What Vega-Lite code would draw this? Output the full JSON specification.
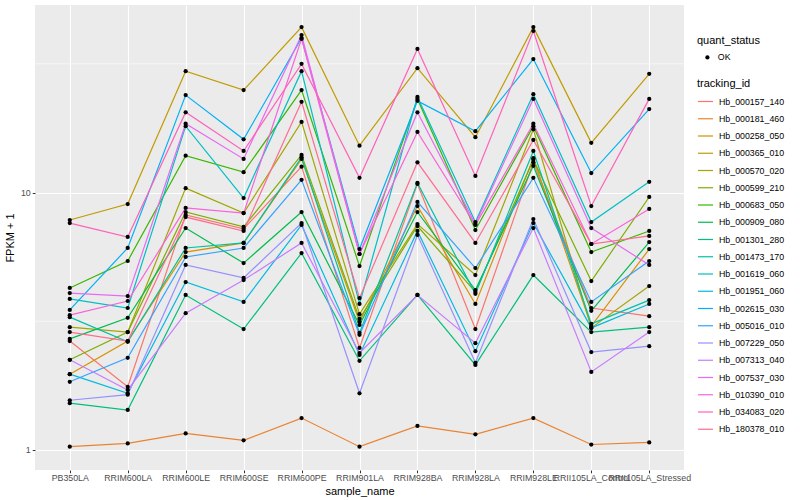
{
"$schema":"https://vega.github.io/schema/vega-lite/v6.json",
"width":649,"height":465,
"autosize":{"type":"none"},
"padding":{"left":35,"top":5,"right":116,"bottom":30},
"background":"white",
"config":{
"font":"Liberation Sans",
"view":{"fill":"#EBEBEB","stroke":null},
"axis":{"domain":false,"grid":true,"gridColor":"white","gridWidth":1.1,"tickColor":"#333333","tickSize":2.75,"tickWidth":1,"labelColor":"#4D4D4D","labelFontSize":8.8,"titleFontSize":11,"titleFontWeight":"normal","titleColor":"black","labelPadding":2},
"legend":{"titleFontSize":11,"titleFontWeight":"normal","titleColor":"black","labelFontSize":8.8,"labelColor":"black"}
},
"data":{"values":[
{"id":"Hb_000157_140","s":"PB350LA","v":2.65,"q":"OK"},{"id":"Hb_000157_140","s":"RRIM600LA","v":1.76,"q":"OK"},{"id":"Hb_000157_140","s":"RRIM600LE","v":8.18,"q":"OK"},{"id":"Hb_000157_140","s":"RRIM600SE","v":7.22,"q":"OK"},{"id":"Hb_000157_140","s":"RRIM600PE","v":12.6,"q":"OK"},{"id":"Hb_000157_140","s":"RRIM901LA","v":2.49,"q":"OK"},{"id":"Hb_000157_140","s":"RRIM928BA","v":10.8,"q":"OK"},{"id":"Hb_000157_140","s":"RRIM928LA","v":2.95,"q":"OK"},{"id":"Hb_000157_140","s":"RRIM928LE","v":13.1,"q":"OK"},{"id":"Hb_000157_140","s":"RRII105LA_Control","v":3.56,"q":"OK"},{"id":"Hb_000157_140","s":"RRII105LA_Stressed","v":3.31,"q":"OK"},
{"id":"Hb_000181_460","s":"PB350LA","v":1.03,"q":"OK"},{"id":"Hb_000181_460","s":"RRIM600LA","v":1.06,"q":"OK"},{"id":"Hb_000181_460","s":"RRIM600LE","v":1.16,"q":"OK"},{"id":"Hb_000181_460","s":"RRIM600SE","v":1.09,"q":"OK"},{"id":"Hb_000181_460","s":"RRIM600PE","v":1.33,"q":"OK"},{"id":"Hb_000181_460","s":"RRIM901LA","v":1.03,"q":"OK"},{"id":"Hb_000181_460","s":"RRIM928BA","v":1.24,"q":"OK"},{"id":"Hb_000181_460","s":"RRIM928LA","v":1.15,"q":"OK"},{"id":"Hb_000181_460","s":"RRIM928LE","v":1.33,"q":"OK"},{"id":"Hb_000181_460","s":"RRII105LA_Control","v":1.05,"q":"OK"},{"id":"Hb_000181_460","s":"RRII105LA_Stressed","v":1.07,"q":"OK"},
{"id":"Hb_000258_050","s":"PB350LA","v":1.97,"q":"OK"},{"id":"Hb_000258_050","s":"RRIM600LA","v":2.65,"q":"OK"},{"id":"Hb_000258_050","s":"RRIM600LE","v":5.87,"q":"OK"},{"id":"Hb_000258_050","s":"RRIM600SE","v":6.37,"q":"OK"},{"id":"Hb_000258_050","s":"RRIM600PE","v":13.5,"q":"OK"},{"id":"Hb_000258_050","s":"RRIM901LA","v":3.14,"q":"OK"},{"id":"Hb_000258_050","s":"RRIM928BA","v":8.86,"q":"OK"},{"id":"Hb_000258_050","s":"RRIM928LA","v":3.69,"q":"OK"},{"id":"Hb_000258_050","s":"RRIM928LE","v":13.6,"q":"OK"},{"id":"Hb_000258_050","s":"RRII105LA_Control","v":3.03,"q":"OK"},{"id":"Hb_000258_050","s":"RRII105LA_Stressed","v":6.03,"q":"OK"},
{"id":"Hb_000365_010","s":"PB350LA","v":7.82,"q":"OK"},{"id":"Hb_000365_010","s":"RRIM600LA","v":9.02,"q":"OK"},{"id":"Hb_000365_010","s":"RRIM600LE","v":29.6,"q":"OK"},{"id":"Hb_000365_010","s":"RRIM600SE","v":25.0,"q":"OK"},{"id":"Hb_000365_010","s":"RRIM600PE","v":43.9,"q":"OK"},{"id":"Hb_000365_010","s":"RRIM901LA","v":15.2,"q":"OK"},{"id":"Hb_000365_010","s":"RRIM928BA","v":30.4,"q":"OK"},{"id":"Hb_000365_010","s":"RRIM928LA","v":16.4,"q":"OK"},{"id":"Hb_000365_010","s":"RRIM928LE","v":43.9,"q":"OK"},{"id":"Hb_000365_010","s":"RRII105LA_Control","v":15.6,"q":"OK"},{"id":"Hb_000365_010","s":"RRII105LA_Stressed","v":28.9,"q":"OK"},
{"id":"Hb_000570_020","s":"PB350LA","v":3.00,"q":"OK"},{"id":"Hb_000570_020","s":"RRIM600LA","v":2.87,"q":"OK"},{"id":"Hb_000570_020","s":"RRIM600LE","v":10.4,"q":"OK"},{"id":"Hb_000570_020","s":"RRIM600SE","v":8.32,"q":"OK"},{"id":"Hb_000570_020","s":"RRIM600PE","v":18.8,"q":"OK"},{"id":"Hb_000570_020","s":"RRIM901LA","v":3.37,"q":"OK"},{"id":"Hb_000570_020","s":"RRIM928BA","v":7.54,"q":"OK"},{"id":"Hb_000570_020","s":"RRIM928LA","v":4.78,"q":"OK"},{"id":"Hb_000570_020","s":"RRIM928LE","v":17.6,"q":"OK"},{"id":"Hb_000570_020","s":"RRII105LA_Control","v":2.98,"q":"OK"},{"id":"Hb_000570_020","s":"RRII105LA_Stressed","v":4.33,"q":"OK"},
{"id":"Hb_000599_210","s":"PB350LA","v":2.24,"q":"OK"},{"id":"Hb_000599_210","s":"RRIM600LA","v":2.87,"q":"OK"},{"id":"Hb_000599_210","s":"RRIM600LE","v":8.40,"q":"OK"},{"id":"Hb_000599_210","s":"RRIM600SE","v":7.35,"q":"OK"},{"id":"Hb_000599_210","s":"RRIM600PE","v":14.0,"q":"OK"},{"id":"Hb_000599_210","s":"RRIM901LA","v":3.23,"q":"OK"},{"id":"Hb_000599_210","s":"RRIM928BA","v":7.41,"q":"OK"},{"id":"Hb_000599_210","s":"RRIM928LA","v":4.11,"q":"OK"},{"id":"Hb_000599_210","s":"RRIM928LE","v":13.4,"q":"OK"},{"id":"Hb_000599_210","s":"RRII105LA_Control","v":4.53,"q":"OK"},{"id":"Hb_000599_210","s":"RRII105LA_Stressed","v":9.61,"q":"OK"},
{"id":"Hb_000683_050","s":"PB350LA","v":4.26,"q":"OK"},{"id":"Hb_000683_050","s":"RRIM600LA","v":5.42,"q":"OK"},{"id":"Hb_000683_050","s":"RRIM600LE","v":13.9,"q":"OK"},{"id":"Hb_000683_050","s":"RRIM600SE","v":12.0,"q":"OK"},{"id":"Hb_000683_050","s":"RRIM600PE","v":25.0,"q":"OK"},{"id":"Hb_000683_050","s":"RRIM901LA","v":5.18,"q":"OK"},{"id":"Hb_000683_050","s":"RRIM928BA","v":23.1,"q":"OK"},{"id":"Hb_000683_050","s":"RRIM928LA","v":7.15,"q":"OK"},{"id":"Hb_000683_050","s":"RRIM928LE","v":18.1,"q":"OK"},{"id":"Hb_000683_050","s":"RRII105LA_Control","v":5.87,"q":"OK"},{"id":"Hb_000683_050","s":"RRII105LA_Stressed","v":7.09,"q":"OK"},
{"id":"Hb_000909_080","s":"PB350LA","v":2.70,"q":"OK"},{"id":"Hb_000909_080","s":"RRIM600LA","v":3.26,"q":"OK"},{"id":"Hb_000909_080","s":"RRIM600LE","v":7.28,"q":"OK"},{"id":"Hb_000909_080","s":"RRIM600SE","v":5.32,"q":"OK"},{"id":"Hb_000909_080","s":"RRIM600PE","v":8.40,"q":"OK"},{"id":"Hb_000909_080","s":"RRIM901LA","v":3.06,"q":"OK"},{"id":"Hb_000909_080","s":"RRIM928BA","v":8.40,"q":"OK"},{"id":"Hb_000909_080","s":"RRIM928LA","v":4.18,"q":"OK"},{"id":"Hb_000909_080","s":"RRIM928LE","v":12.7,"q":"OK"},{"id":"Hb_000909_080","s":"RRII105LA_Control","v":3.47,"q":"OK"},{"id":"Hb_000909_080","s":"RRII105LA_Stressed","v":6.42,"q":"OK"},
{"id":"Hb_001301_280","s":"PB350LA","v":1.52,"q":"OK"},{"id":"Hb_001301_280","s":"RRIM600LA","v":1.43,"q":"OK"},{"id":"Hb_001301_280","s":"RRIM600LE","v":4.00,"q":"OK"},{"id":"Hb_001301_280","s":"RRIM600SE","v":2.95,"q":"OK"},{"id":"Hb_001301_280","s":"RRIM600PE","v":5.82,"q":"OK"},{"id":"Hb_001301_280","s":"RRIM901LA","v":2.22,"q":"OK"},{"id":"Hb_001301_280","s":"RRIM928BA","v":4.00,"q":"OK"},{"id":"Hb_001301_280","s":"RRIM928LA","v":2.14,"q":"OK"},{"id":"Hb_001301_280","s":"RRIM928LE","v":4.78,"q":"OK"},{"id":"Hb_001301_280","s":"RRII105LA_Control","v":2.87,"q":"OK"},{"id":"Hb_001301_280","s":"RRII105LA_Stressed","v":3.00,"q":"OK"},
{"id":"Hb_001473_170","s":"PB350LA","v":3.28,"q":"OK"},{"id":"Hb_001473_170","s":"RRIM600LA","v":2.63,"q":"OK"},{"id":"Hb_001473_170","s":"RRIM600LE","v":6.09,"q":"OK"},{"id":"Hb_001473_170","s":"RRIM600SE","v":6.37,"q":"OK"},{"id":"Hb_001473_170","s":"RRIM600PE","v":13.7,"q":"OK"},{"id":"Hb_001473_170","s":"RRIM901LA","v":2.85,"q":"OK"},{"id":"Hb_001473_170","s":"RRIM928BA","v":10.9,"q":"OK"},{"id":"Hb_001473_170","s":"RRIM928LA","v":4.04,"q":"OK"},{"id":"Hb_001473_170","s":"RRIM928LE","v":14.5,"q":"OK"},{"id":"Hb_001473_170","s":"RRII105LA_Control","v":3.09,"q":"OK"},{"id":"Hb_001473_170","s":"RRII105LA_Stressed","v":3.82,"q":"OK"},
{"id":"Hb_001619_060","s":"PB350LA","v":3.86,"q":"OK"},{"id":"Hb_001619_060","s":"RRIM600LA","v":3.56,"q":"OK"},{"id":"Hb_001619_060","s":"RRIM600LE","v":18.1,"q":"OK"},{"id":"Hb_001619_060","s":"RRIM600SE","v":9.52,"q":"OK"},{"id":"Hb_001619_060","s":"RRIM600PE","v":29.6,"q":"OK"},{"id":"Hb_001619_060","s":"RRIM901LA","v":3.69,"q":"OK"},{"id":"Hb_001619_060","s":"RRIM928BA","v":23.5,"q":"OK"},{"id":"Hb_001619_060","s":"RRIM928LA","v":7.68,"q":"OK"},{"id":"Hb_001619_060","s":"RRIM928LE","v":24.1,"q":"OK"},{"id":"Hb_001619_060","s":"RRII105LA_Control","v":7.68,"q":"OK"},{"id":"Hb_001619_060","s":"RRII105LA_Stressed","v":11.0,"q":"OK"},
{"id":"Hb_001951_060","s":"PB350LA","v":1.97,"q":"OK"},{"id":"Hb_001951_060","s":"RRIM600LA","v":1.66,"q":"OK"},{"id":"Hb_001951_060","s":"RRIM600LE","v":4.49,"q":"OK"},{"id":"Hb_001951_060","s":"RRIM600SE","v":3.76,"q":"OK"},{"id":"Hb_001951_060","s":"RRIM600PE","v":7.48,"q":"OK"},{"id":"Hb_001951_060","s":"RRIM901LA","v":2.34,"q":"OK"},{"id":"Hb_001951_060","s":"RRIM928BA","v":7.09,"q":"OK"},{"id":"Hb_001951_060","s":"RRIM928LA","v":2.42,"q":"OK"},{"id":"Hb_001951_060","s":"RRIM928LE","v":7.61,"q":"OK"},{"id":"Hb_001951_060","s":"RRII105LA_Control","v":2.98,"q":"OK"},{"id":"Hb_001951_060","s":"RRII105LA_Stressed","v":3.69,"q":"OK"},
{"id":"Hb_002615_030","s":"PB350LA","v":3.50,"q":"OK"},{"id":"Hb_002615_030","s":"RRIM600LA","v":6.09,"q":"OK"},{"id":"Hb_002615_030","s":"RRIM600LE","v":23.9,"q":"OK"},{"id":"Hb_002615_030","s":"RRIM600SE","v":16.1,"q":"OK"},{"id":"Hb_002615_030","s":"RRIM600PE","v":39.8,"q":"OK"},{"id":"Hb_002615_030","s":"RRIM901LA","v":6.03,"q":"OK"},{"id":"Hb_002615_030","s":"RRIM928BA","v":22.7,"q":"OK"},{"id":"Hb_002615_030","s":"RRIM928LA","v":17.3,"q":"OK"},{"id":"Hb_002615_030","s":"RRIM928LE","v":33.0,"q":"OK"},{"id":"Hb_002615_030","s":"RRII105LA_Control","v":11.9,"q":"OK"},{"id":"Hb_002615_030","s":"RRII105LA_Stressed","v":21.1,"q":"OK"},
{"id":"Hb_005016_010","s":"PB350LA","v":1.84,"q":"OK"},{"id":"Hb_005016_010","s":"RRIM600LA","v":2.28,"q":"OK"},{"id":"Hb_005016_010","s":"RRIM600LE","v":5.62,"q":"OK"},{"id":"Hb_005016_010","s":"RRIM600SE","v":6.09,"q":"OK"},{"id":"Hb_005016_010","s":"RRIM600PE","v":11.2,"q":"OK"},{"id":"Hb_005016_010","s":"RRIM901LA","v":2.80,"q":"OK"},{"id":"Hb_005016_010","s":"RRIM928BA","v":9.19,"q":"OK"},{"id":"Hb_005016_010","s":"RRIM928LA","v":5.09,"q":"OK"},{"id":"Hb_005016_010","s":"RRIM928LE","v":11.4,"q":"OK"},{"id":"Hb_005016_010","s":"RRII105LA_Control","v":3.76,"q":"OK"},{"id":"Hb_005016_010","s":"RRII105LA_Stressed","v":5.42,"q":"OK"},
{"id":"Hb_007229_050","s":"PB350LA","v":1.56,"q":"OK"},{"id":"Hb_007229_050","s":"RRIM600LA","v":1.64,"q":"OK"},{"id":"Hb_007229_050","s":"RRIM600LE","v":5.23,"q":"OK"},{"id":"Hb_007229_050","s":"RRIM600SE","v":4.66,"q":"OK"},{"id":"Hb_007229_050","s":"RRIM600PE","v":7.61,"q":"OK"},{"id":"Hb_007229_050","s":"RRIM901LA","v":1.66,"q":"OK"},{"id":"Hb_007229_050","s":"RRIM928BA","v":6.84,"q":"OK"},{"id":"Hb_007229_050","s":"RRIM928LA","v":2.18,"q":"OK"},{"id":"Hb_007229_050","s":"RRIM928LE","v":7.89,"q":"OK"},{"id":"Hb_007229_050","s":"RRII105LA_Control","v":2.40,"q":"OK"},{"id":"Hb_007229_050","s":"RRII105LA_Stressed","v":2.53,"q":"OK"},
{"id":"Hb_007313_040","s":"PB350LA","v":2.24,"q":"OK"},{"id":"Hb_007313_040","s":"RRIM600LA","v":1.71,"q":"OK"},{"id":"Hb_007313_040","s":"RRIM600LE","v":3.40,"q":"OK"},{"id":"Hb_007313_040","s":"RRIM600SE","v":4.57,"q":"OK"},{"id":"Hb_007313_040","s":"RRIM600PE","v":6.37,"q":"OK"},{"id":"Hb_007313_040","s":"RRIM901LA","v":2.38,"q":"OK"},{"id":"Hb_007313_040","s":"RRIM928BA","v":4.00,"q":"OK"},{"id":"Hb_007313_040","s":"RRIM928LA","v":2.60,"q":"OK"},{"id":"Hb_007313_040","s":"RRIM928LE","v":7.28,"q":"OK"},{"id":"Hb_007313_040","s":"RRII105LA_Control","v":2.01,"q":"OK"},{"id":"Hb_007313_040","s":"RRII105LA_Stressed","v":2.87,"q":"OK"},
{"id":"Hb_007537_030","s":"PB350LA","v":4.07,"q":"OK"},{"id":"Hb_007537_030","s":"RRIM600LA","v":3.96,"q":"OK"},{"id":"Hb_007537_030","s":"RRIM600LE","v":18.5,"q":"OK"},{"id":"Hb_007537_030","s":"RRIM600SE","v":13.5,"q":"OK"},{"id":"Hb_007537_030","s":"RRIM600PE","v":40.9,"q":"OK"},{"id":"Hb_007537_030","s":"RRIM901LA","v":5.77,"q":"OK"},{"id":"Hb_007537_030","s":"RRIM928BA","v":20.5,"q":"OK"},{"id":"Hb_007537_030","s":"RRIM928LA","v":7.54,"q":"OK"},{"id":"Hb_007537_030","s":"RRIM928LE","v":23.1,"q":"OK"},{"id":"Hb_007537_030","s":"RRII105LA_Control","v":7.28,"q":"OK"},{"id":"Hb_007537_030","s":"RRII105LA_Stressed","v":5.23,"q":"OK"},
{"id":"Hb_010390_010","s":"PB350LA","v":3.34,"q":"OK"},{"id":"Hb_010390_010","s":"RRIM600LA","v":3.79,"q":"OK"},{"id":"Hb_010390_010","s":"RRIM600LE","v":8.71,"q":"OK"},{"id":"Hb_010390_010","s":"RRIM600SE","v":8.32,"q":"OK"},{"id":"Hb_010390_010","s":"RRIM600PE","v":39.5,"q":"OK"},{"id":"Hb_010390_010","s":"RRIM901LA","v":5.77,"q":"OK"},{"id":"Hb_010390_010","s":"RRIM928BA","v":17.2,"q":"OK"},{"id":"Hb_010390_010","s":"RRIM928LA","v":7.48,"q":"OK"},{"id":"Hb_010390_010","s":"RRIM928LE","v":18.5,"q":"OK"},{"id":"Hb_010390_010","s":"RRII105LA_Control","v":6.31,"q":"OK"},{"id":"Hb_010390_010","s":"RRII105LA_Stressed","v":8.63,"q":"OK"},
{"id":"Hb_034083_020","s":"PB350LA","v":7.61,"q":"OK"},{"id":"Hb_034083_020","s":"RRIM600LA","v":6.72,"q":"OK"},{"id":"Hb_034083_020","s":"RRIM600LE","v":20.5,"q":"OK"},{"id":"Hb_034083_020","s":"RRIM600SE","v":14.5,"q":"OK"},{"id":"Hb_034083_020","s":"RRIM600PE","v":31.6,"q":"OK"},{"id":"Hb_034083_020","s":"RRIM901LA","v":11.4,"q":"OK"},{"id":"Hb_034083_020","s":"RRIM928BA","v":36.1,"q":"OK"},{"id":"Hb_034083_020","s":"RRIM928LA","v":11.6,"q":"OK"},{"id":"Hb_034083_020","s":"RRIM928LE","v":42.4,"q":"OK"},{"id":"Hb_034083_020","s":"RRII105LA_Control","v":8.86,"q":"OK"},{"id":"Hb_034083_020","s":"RRII105LA_Stressed","v":23.1,"q":"OK"},
{"id":"Hb_180378_010","s":"PB350LA","v":2.87,"q":"OK"},{"id":"Hb_180378_010","s":"RRIM600LA","v":2.65,"q":"OK"},{"id":"Hb_180378_010","s":"RRIM600LE","v":8.03,"q":"OK"},{"id":"Hb_180378_010","s":"RRIM600SE","v":7.09,"q":"OK"},{"id":"Hb_180378_010","s":"RRIM600PE","v":22.5,"q":"OK"},{"id":"Hb_180378_010","s":"RRIM901LA","v":3.89,"q":"OK"},{"id":"Hb_180378_010","s":"RRIM928BA","v":13.1,"q":"OK"},{"id":"Hb_180378_010","s":"RRIM928LA","v":6.37,"q":"OK"},{"id":"Hb_180378_010","s":"RRIM928LE","v":16.0,"q":"OK"},{"id":"Hb_180378_010","s":"RRII105LA_Control","v":6.31,"q":"OK"},{"id":"Hb_180378_010","s":"RRII105LA_Stressed","v":6.78,"q":"OK"}
]},
"layer":[
{"data":{"values":[{"g":3.1623},{"g":31.623}]},
 "mark":{"type":"rule","color":"white","strokeWidth":0.55},
 "encoding":{"y":{"field":"g","type":"quantitative","scale":{"type":"log","domain":[0.836,53.5],"nice":false,"zero":false}}}},
{"mark":{"type":"line","strokeWidth":1.2},
 "encoding":{
  "x":{"field":"s","type":"nominal","sort":["PB350LA","RRIM600LA","RRIM600LE","RRIM600SE","RRIM600PE","RRIM901LA","RRIM928BA","RRIM928LA","RRIM928LE","RRII105LA_Control","RRII105LA_Stressed"],"scale":{"type":"point","padding":0.6},"axis":{"title":"sample_name","labelAngle":0,"labelOverlap":false,"titlePadding":3,"labelPadding":1}},
  "y":{"field":"v","type":"quantitative","scale":{"type":"log","domain":[0.836,53.5],"nice":false,"zero":false},"axis":{"title":"FPKM + 1","values":[1,10],"format":"~g","titlePadding":5}},
  "color":{"field":"id","type":"nominal","scale":{"domain":["Hb_000157_140","Hb_000181_460","Hb_000258_050","Hb_000365_010","Hb_000570_020","Hb_000599_210","Hb_000683_050","Hb_000909_080","Hb_001301_280","Hb_001473_170","Hb_001619_060","Hb_001951_060","Hb_002615_030","Hb_005016_010","Hb_007229_050","Hb_007313_040","Hb_007537_030","Hb_010390_010","Hb_034083_020","Hb_180378_010"],"range":["#F8766D","#EA8331","#D89000","#C09B00","#A3A500","#7CAE00","#39B600","#00BB4E","#00BF7D","#00C1A3","#00BFC4","#00BAE0","#00B0F6","#35A2FF","#9590FF","#C77CFF","#E76BF3","#FA62DB","#FF62BC","#FF6C91"]},
   "legend":{"title":"tracking_id","orient":"none","legendX":662,"legendY":73,"symbolType":"stroke","symbolSize":225,"symbolStrokeWidth":1.2,"rowPadding":3.25,"labelOffset":5,"titlePadding":4}}
 }},
{"mark":{"type":"point","filled":true,"size":18,"opacity":1},
 "encoding":{
  "x":{"field":"s","type":"nominal","sort":["PB350LA","RRIM600LA","RRIM600LE","RRIM600SE","RRIM600PE","RRIM901LA","RRIM928BA","RRIM928LA","RRIM928LE","RRII105LA_Control","RRII105LA_Stressed"],"scale":{"type":"point","padding":0.6}},
  "y":{"field":"v","type":"quantitative","scale":{"type":"log","domain":[0.836,53.5],"nice":false,"zero":false}},
  "fill":{"field":"q","type":"nominal","scale":{"range":["black"]},
   "legend":{"title":"quant_status","orient":"none","legendX":662,"legendY":30,"symbolType":"circle","symbolSize":18,"symbolOffset":6,"labelOffset":6,"titlePadding":7}}
 }}
]
}
